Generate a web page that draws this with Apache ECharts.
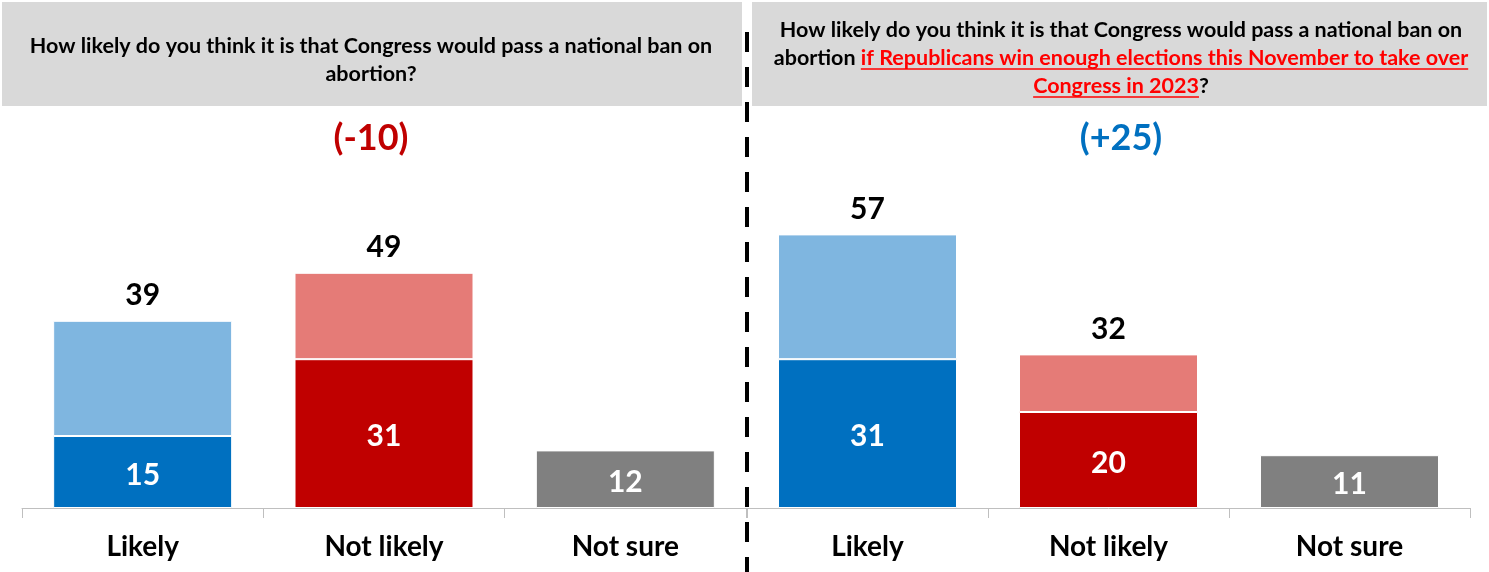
<!DOCTYPE html>
<html>
<head>
<meta charset="utf-8">
<script src="https://cdn.jsdelivr.net/npm/echarts@6/dist/echarts.min.js"></script>
<style>html,body{margin:0;padding:0;background:#fff}#c{width:1489px;height:572px}</style>
</head>
<body>
<div id="c"></div>
<script>
// ---- data ----
const categories = ['Likely', 'Not likely', 'Not sure'];
const leftTotals = [39, 49, 12];
const leftBase = [15, 31, 12];
const rightTotals = [57, 32, 11];
const rightBase = [31, 20, 11];
const leftNet = '(-10)';
const rightNet = '(+25)';
const leftQuestion = 'How likely do you think it is that Congress would pass a national ban on\nabortion?';
const rightQ1 = 'How likely do you think it is that Congress would pass a national ban on';
const rightQ2a = 'abortion ';
const rightQ2b = 'if Republicans win enough elections this November to take over';
const rightQ3a = 'Congress in 2023';
const rightQ3b = '?';

// ---- styles ----
const FONT = 'Lato';
const darkColors = ['#0070C0', '#C00000', '#808080'];
const lightColors = ['#7FB6E0', '#E57B77', '#808080'];
const HDR_SIZE = 21.5;

function topPart(totals, base) {
  return totals.map((t, i) => (i === 2 ? '-' : t - base[i]));
}

function panelSeries(idx, totals, base) {
  return [
    {
      type: 'bar', xAxisIndex: idx, yAxisIndex: idx, stack: 's' + idx,
      barWidth: 179,
      data: base.map((v, i) => ({ value: v, itemStyle: { color: darkColors[i] } })),
      itemStyle: { borderColor: '#fff', borderWidth: 1 },
      label: { show: true, position: 'inside', offset: [0, 3], color: '#fff', fontFamily: FONT, fontWeight: 'bold', fontSize: 30 },
      silent: true
    },
    {
      type: 'bar', xAxisIndex: idx, yAxisIndex: idx, stack: 's' + idx,
      barWidth: 179,
      data: topPart(totals, base).map((v, i) => ({ value: v, itemStyle: { color: lightColors[i] } })),
      itemStyle: { borderColor: '#fff', borderWidth: 1 },
      label: {
        show: true, position: 'top', distance: 10, color: '#000', fontFamily: FONT, fontWeight: 'bold', fontSize: 30,
        formatter: p => String(totals[p.dataIndex])
      },
      silent: true
    }
  ];
}

function catAxis(idx) {
  return {
    type: 'category', gridIndex: idx, data: categories,
    axisLine: { lineStyle: { color: '#BFBFBF', width: 1 } },
    axisTick: { show: true, length: 10, lineStyle: { color: '#BFBFBF' } },
    axisLabel: { color: '#000', fontFamily: FONT, fontWeight: 'bold', fontSize: 28, margin: 25 }
  };
}
function valAxis(idx) {
  return { type: 'value', gridIndex: idx, min: 0, max: 60, show: false, splitLine: { show: false } };
}

// measure text for underline placement
const mctx = document.createElement('canvas').getContext('2d');
mctx.font = 'bold ' + HDR_SIZE + 'px ' + FONT;
const w = s => mctx.measureText(s).width;
const RCX = 1121;
const l2w = w(rightQ2a) + w(rightQ2b);
const l2start = RCX - l2w / 2;
const u2x1 = l2start + w(rightQ2a), u2x2 = l2start + l2w;
const l3w = w(rightQ3a) + w(rightQ3b);
const l3start = RCX - l3w / 2;
const u3x1 = l3start, u3x2 = l3start + w(rightQ3a);

const chart = echarts.init(document.getElementById('c'), null, { renderer: 'canvas' });
chart.setOption({
  animation: false,
  backgroundColor: '#fff',
  grid: [
    { left: 22, width: 724, top: 220, height: 288 },
    { left: 747, width: 723, top: 220, height: 288 }
  ],
  xAxis: [catAxis(0), catAxis(1)],
  yAxis: [valAxis(0), valAxis(1)],
  series: [...panelSeries(0, leftTotals, leftBase), ...panelSeries(1, rightTotals, rightBase)],
  graphic: [
    { type: 'rect', shape: { x: 2, y: 2, width: 740, height: 104 }, style: { fill: '#D9D9D9' }, silent: true },
    { type: 'rect', shape: { x: 752, y: 2, width: 735, height: 104 }, style: { fill: '#D9D9D9' }, silent: true },
    { type: 'text', style: { text: leftQuestion, x: 371, y: 60, align: 'center', verticalAlign: 'middle',
        font: 'bold ' + HDR_SIZE + 'px ' + FONT, lineHeight: 28, fill: '#000' }, silent: true },
    { type: 'text', style: {
        text: rightQ1 + '\n' + rightQ2a + '{r|' + rightQ2b + '}\n{r|' + rightQ3a + '}' + rightQ3b,
        x: RCX, y: 58, align: 'center', verticalAlign: 'middle',
        font: 'bold ' + HDR_SIZE + 'px ' + FONT, lineHeight: 28, fill: '#000',
        rich: { r: { fill: '#FF0000', font: 'bold ' + HDR_SIZE + 'px ' + FONT, lineHeight: 28 } }
      }, silent: true },
    { type: 'line', shape: { x1: u2x1, y1: 69, x2: u2x2, y2: 69 }, style: { stroke: '#FF0000', lineWidth: 1.5 }, silent: true },
    { type: 'line', shape: { x1: u3x1, y1: 97, x2: u3x2, y2: 97 }, style: { stroke: '#FF0000', lineWidth: 1.5 }, silent: true },
    { type: 'text', style: { text: leftNet, x: 371, y: 138, align: 'center', verticalAlign: 'middle',
        font: 'bold 36px ' + FONT, fill: '#C00000' }, silent: true },
    { type: 'text', style: { text: rightNet, x: 1121, y: 138, align: 'center', verticalAlign: 'middle',
        font: 'bold 36px ' + FONT, fill: '#0070C0' }, silent: true },
    { type: 'line', shape: { x1: 747, y1: 32, x2: 747, y2: 572 }, style: { stroke: '#000', lineWidth: 4, lineDash: [20, 15] }, silent: true }
  ]
});
</script>
</body>
</html>
